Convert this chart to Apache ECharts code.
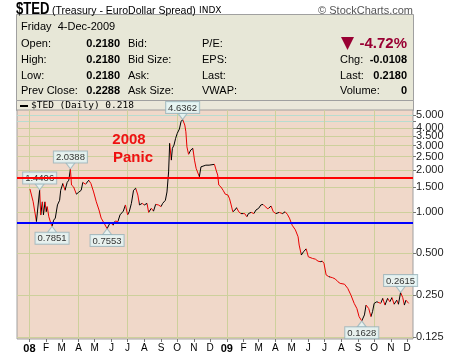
<!DOCTYPE html>
<html><head><meta charset="utf-8">
<script src="https://cdn.jsdelivr.net/npm/echarts@6/dist/echarts.min.js"></script>
<style>html,body{margin:0;padding:0;background:#fff}#c{width:460px;height:357px}</style>
</head><body><div id="c"></div>
<script>
// ---- data ----
const dates = [
'2008-01-02','2008-01-08','2008-01-14','2008-01-20','2008-01-22','2008-01-25','2008-01-27','2008-01-30','2008-02-01','2008-02-03',
'2008-02-06','2008-02-10','2008-02-12','2008-02-15','2008-02-18','2008-02-22','2008-02-26','2008-02-28','2008-03-03','2008-03-07',
'2008-03-11','2008-03-14','2008-03-17','2008-03-19','2008-03-23','2008-03-28','2008-04-01','2008-04-06','2008-04-09','2008-04-14',
'2008-04-20','2008-04-24','2008-04-29','2008-05-04','2008-05-09','2008-05-13','2008-05-19','2008-05-24','2008-05-30','2008-06-04',
'2008-06-08','2008-06-13','2008-06-17','2008-06-23','2008-06-27','2008-07-01','2008-07-04','2008-07-08','2008-07-12','2008-07-16',
'2008-07-20','2008-07-23','2008-07-28','2008-08-01','2008-08-06','2008-08-09','2008-08-14','2008-08-18','2008-08-22','2008-08-27',
'2008-09-01','2008-09-04','2008-09-09','2008-09-12','2008-09-15','2008-09-17','2008-09-20','2008-09-22','2008-09-25','2008-09-28',
'2008-10-01','2008-10-05','2008-10-08','2008-10-11','2008-10-15','2008-10-17','2008-10-19','2008-10-22','2008-10-26','2008-10-30',
'2008-11-02','2008-11-05','2008-11-08','2008-11-11','2008-11-14','2008-11-17','2008-11-23','2008-11-29','2008-12-09','2008-12-12',
'2008-12-15','2008-12-17','2008-12-21','2008-12-25','2008-12-29','2009-01-03','2009-01-06','2009-01-09','2009-01-12','2009-01-16',
'2009-01-19','2009-01-23','2009-01-27','2009-01-30','2009-02-03','2009-02-07','2009-02-10','2009-02-15','2009-02-20','2009-02-24',
'2009-03-01','2009-03-05','2009-03-09','2009-03-13','2009-03-18','2009-03-21','2009-03-24','2009-03-28','2009-04-02','2009-04-08',
'2009-04-14','2009-04-19','2009-04-23','2009-04-27','2009-05-02','2009-05-08','2009-05-13','2009-05-15','2009-05-19','2009-05-23',
'2009-05-28','2009-06-01','2009-06-04','2009-06-09','2009-06-14','2009-06-19','2009-06-23','2009-06-27','2009-06-30','2009-07-04',
'2009-07-09','2009-07-12','2009-07-16','2009-07-21','2009-07-26','2009-07-30','2009-08-07','2009-08-13','2009-08-19','2009-08-25',
'2009-08-30','2009-09-03','2009-09-08','2009-09-13','2009-09-16','2009-09-21','2009-09-25','2009-09-28','2009-10-01','2009-10-06',
'2009-10-09','2009-10-13','2009-10-17','2009-10-21','2009-10-26','2009-10-30','2009-11-03','2009-11-07','2009-11-12','2009-11-15',
'2009-11-19','2009-11-23','2009-11-26','2009-11-29','2009-12-04'
];
const values = [
1.46,1.18,0.85,1.4406,0.947,1.18,0.95,1.18,1.00,1.09,
0.92,0.82,0.7851,0.87,0.90,1.12,1.21,1.43,1.60,1.43,
1.63,1.69,2.0388,1.56,1.51,1.34,1.38,1.43,1.63,1.58,
1.69,1.60,1.39,1.18,1.03,0.90,0.82,0.7553,0.84,0.80,
0.857,0.85,0.95,1.01,1.12,0.95,1.00,1.15,1.43,1.48,
1.32,1.12,1.15,1.12,1.15,0.99,1.06,1.01,1.13,1.12,
1.09,1.15,1.21,1.39,1.94,3.12,2.36,2.87,3.03,3.39,
3.68,3.96,4.47,4.6362,4.23,3.78,2.94,2.60,2.79,2.87,
2.36,2.06,2.00,1.79,2.11,2.15,2.17,2.17,2.20,2.00,
1.84,1.56,1.51,1.43,1.34,1.32,1.24,1.12,1.00,1.03,
1.07,1.00,0.97,0.99,0.97,0.92,0.97,0.99,0.97,1.03,
1.06,1.12,1.13,1.09,1.05,1.03,1.10,1.00,0.97,0.99,
0.97,1.00,0.96,0.90,0.80,0.74,0.66,0.575,0.487,0.514,
0.54,0.473,0.47,0.46,0.455,0.44,0.436,0.44,0.424,0.35,
0.34,0.345,0.334,0.327,0.312,0.304,0.30,0.28,0.25,0.218,
0.20,0.175,0.1628,0.18,0.212,0.20,0.175,0.19,0.218,0.224,
0.23,0.218,0.237,0.212,0.237,0.224,0.24,0.215,0.23,0.215,
0.2615,0.24,0.212,0.23,0.218
];
const peakDates = ['2008-01-20','2008-03-17','2008-10-11','2009-11-19'];
const peakValues = [1.4406, 2.0388, 4.6362, 0.2615];
const troughDates = ['2008-02-12','2008-05-24','2009-09-08'];
const troughValues = [0.7851, 0.7553, 0.1628];
const redLineValue = 1.76;
const blueLineValue = 0.843;
const yLabelValues = [0.125, 0.25, 0.5, 1, 1.5, 2, 2.5, 3, 3.5, 4, 5];
const yGridValues = [0.125, 0.25, 0.5, 1, 1.5, 2, 2.5, 3, 3.5, 4, 4.5, 5];
const monthLetters = ['J','F','M','A','M','J','J','A','S','O','N','D'];
const xStart = '2007-12-09', xEnd = '2009-12-12';

// ---- build ----
const ts = s => { const p = s.split('-').map(Number); return Date.UTC(p[0], p[1] - 1, p[2]); };
const lineData = dates.map((d, i) => [ts(d), values[i]]);
const peakData = peakDates.map((d, i) => [ts(d), peakValues[i]]);
const troughData = troughDates.map((d, i) => [ts(d), troughValues[i]]);

const monthTicks = [], quarterTicks = [];
for (let y = 2008; y <= 2009; y++) for (let m = 0; m < 12; m++) {
  monthTicks.push(Date.UTC(y, m, 1));
  if (m % 3 === 0) quarterTicks.push(Date.UTC(y, m, 1));
}

// rising segments black, falling segments red
const UP = '#000000', DOWN = '#e80000';
const pieces = [];
let runStart = 0, runUp = values[1] >= values[0];
for (let i = 1; i < values.length; i++) {
  const up = values[i] >= values[i - 1];
  if (up !== runUp) {
    pieces.push({ gte: lineData[runStart][0], lt: lineData[i - 1][0], color: runUp ? UP : DOWN });
    runStart = i - 1; runUp = up;
  }
}
pieces.push({ gte: lineData[runStart][0], lte: lineData[values.length - 1][0], color: runUp ? UP : DOWN });

const FONT = '"Liberation Sans", Arial, sans-serif';
const T = (text, x, y, opt) => ({ type: 'text', silent: true, z: 100, style: Object.assign({ text, x, y, font: '11px ' + FONT, fill: '#000', textVerticalAlign: 'middle' }, opt || {}) });
const B = (text, x, y) => T(text, x, y, { font: 'bold 11px ' + FONT, textAlign: 'right' });

const graphics = [
  { type: 'rect', silent: true, z: -1, shape: { x: 16.5, y: 14.5, width: 397, height: 86 }, style: { fill: '#e7e7d7', stroke: '#a0a0a0', lineWidth: 1 } },
  { type: 'rect', silent: true, z: -1, shape: { x: 16.5, y: 100.5, width: 397, height: 10 }, style: { fill: '#ebe8da', stroke: '#a0a0a0', lineWidth: 1 } },
  { type: 'text', silent: true, z: 100, x: 16, y: 10, scaleX: 0.82, style: { text: '$TED', x: 0, y: 0, font: 'bold 16px ' + FONT, fill: '#000', textVerticalAlign: 'middle' } },
  T('(Treasury - EuroDollar Spread)', 52, 11, { font: '10.5px ' + FONT }),
  T('INDX', 199, 11, { font: '9px "DejaVu Sans", sans-serif' }),
  T('\u00a9 StockCharts.com', 413, 11, { font: '11px ' + FONT, fill: '#555', textAlign: 'right' }),
  T('Friday  4-Dec-2009', 21, 27),
  T('Open:', 21, 43.5), T('High:', 21, 59.5), T('Low:', 21, 75.5), T('Prev Close:', 21, 91),
  B('0.2180', 120, 43.5), B('0.2180', 120, 59.5), B('0.2180', 120, 75.5), B('0.2288', 120, 91),
  T('Bid:', 128, 43.5), T('Bid Size:', 128, 59.5), T('Ask:', 128, 75.5), T('Ask Size:', 128, 91),
  T('P/E:', 202, 43.5), T('EPS:', 202, 59.5), T('Last:', 202, 75.5), T('VWAP:', 202, 91),
  { type: 'polygon', silent: true, z: 100, shape: { points: [[341, 37], [354, 37], [347.5, 50]] }, style: { fill: '#990033' } },
  T('-4.72%', 407, 43.5, { font: 'bold 15px ' + FONT, fill: '#990033', textAlign: 'right' }),
  T('Chg:', 340, 59.5), B('-0.0108', 407, 59.5),
  T('Last:', 340, 75.5), B('0.2180', 407, 75.5),
  T('Volume:', 340, 91), B('0', 407, 91),
  { type: 'line', silent: true, z: 100, shape: { x1: 20, y1: 106, x2: 28, y2: 106 }, style: { stroke: '#000', lineWidth: 2 } },
  T('$TED (Daily) 0.218', 31, 106, { font: '9.5px "DejaVu Sans Mono", monospace' }),
  T('2008', 129, 140, { font: 'bold 15px ' + FONT, fill: '#ee1111', textAlign: 'center' }),
  T('Panic', 133, 158, { font: 'bold 15px ' + FONT, fill: '#ee1111', textAlign: 'center' })
];

const labelBox = {
  show: true, distance: 0, color: '#000', fontSize: 9.5, fontFamily: FONT,
  backgroundColor: '#e6f7f8', borderColor: '#98b4bc', borderWidth: 1, padding: [1, 2, 0, 2],
  formatter: p => p.value[1].toFixed(4)
};

const gridColors = yGridValues.map(v => v >= 4.5 ? '#b8dcd0' : '#cdd09c');

const option = {
  animation: false,
  textStyle: { fontFamily: FONT },
  graphic: graphics,
  grid: { left: 17, right: 47, top: 110, bottom: 18, show: true, backgroundColor: '#f0d8c9', borderColor: '#a0a0a0', borderWidth: 1 },
  xAxis: [{
    type: 'value', min: ts(xStart), max: ts(xEnd), scale: true,
    axisLine: { show: false },
    axisTick: { show: true, customValues: monthTicks, length: 3, lineStyle: { color: '#777' } },
    axisLabel: {
      customValues: monthTicks, fontSize: 10, color: '#000', margin: 4, fontFamily: FONT,
      formatter: v => { const d = new Date(v); const m = d.getUTCMonth(); return m === 0 ? '{b|' + String(d.getUTCFullYear()).slice(2) + '}' : monthLetters[m]; },
      rich: { b: { fontWeight: 'bold', fontSize: 11, color: '#000', fontFamily: FONT } }
    },
    splitLine: { show: false }
  }, {
    type: 'value', min: ts(xStart), max: ts(xEnd), scale: true, position: 'bottom',
    axisLine: { show: false },
    axisTick: { show: false, customValues: quarterTicks },
    axisLabel: { show: false, customValues: quarterTicks },
    splitLine: { show: true, lineStyle: { color: '#cdd09c', width: 1 } }
  }],
  yAxis: {
    type: 'log', logBase: 2, position: 'right', min: 0.1206, max: 5.43,
    axisLine: { show: false },
    axisTick: { show: true, customValues: yGridValues, length: 3, lineStyle: { color: '#777' } },
    axisLabel: { customValues: yLabelValues, formatter: v => Number(v).toFixed(3), fontSize: 11, color: '#222', margin: 3, fontFamily: FONT },
    splitLine: { show: true, lineStyle: { color: gridColors, width: 1 } }
  },
  visualMap: { type: 'piecewise', show: false, dimension: 0, seriesIndex: 0, pieces: pieces, outOfRange: { color: DOWN } },
  series: [{
    type: 'line', data: lineData, showSymbol: false, symbol: 'none', lineStyle: { width: 1 }, z: 3, silent: true
  }, {
    type: 'scatter', data: peakData, symbol: 'triangle', symbolRotate: 180, symbolSize: [9, 6], symbolOffset: [0, -3],
    itemStyle: { color: '#e6f7f8', borderColor: '#98b4bc', borderWidth: 1 },
    label: Object.assign({ position: 'top' }, labelBox), z: 4, silent: true
  }, {
    type: 'scatter', data: troughData, symbol: 'triangle', symbolSize: [9, 6], symbolOffset: [0, 3],
    itemStyle: { color: '#e6f7f8', borderColor: '#98b4bc', borderWidth: 1 },
    label: Object.assign({ position: 'bottom' }, labelBox), z: 4, silent: true
  }, {
    type: 'line', data: [], z: 5, silent: true,
    markLine: {
      symbol: 'none', silent: true, label: { show: false }, animation: false,
      data: [
        { yAxis: redLineValue, lineStyle: { color: '#ff0000', width: 2, type: 'solid' } },
        { yAxis: blueLineValue, lineStyle: { color: '#0000ff', width: 2, type: 'solid' } }
      ]
    }
  }]
};
const chart = echarts.init(document.getElementById('c'));
chart.setOption(option);
</script></body></html>
